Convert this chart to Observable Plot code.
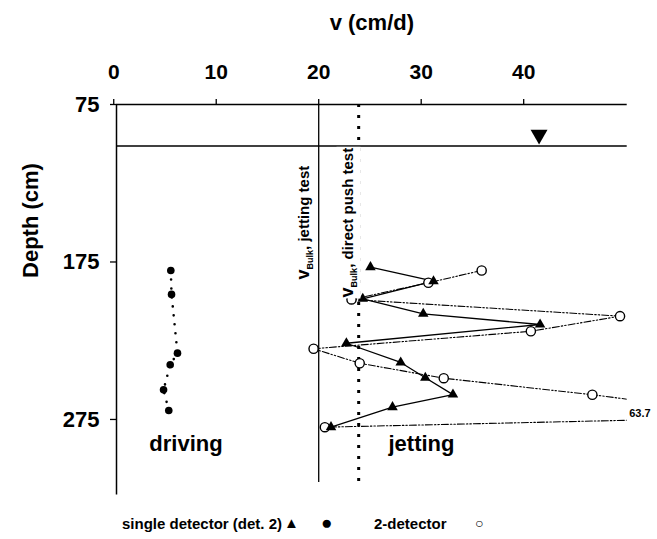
<!DOCTYPE html>
<html>
<head>
<meta charset="utf-8">
<script src="https://cdn.jsdelivr.net/npm/d3@7"></script>
<script src="https://cdn.jsdelivr.net/npm/@observablehq/plot@0.6"></script>
<style>
  body { margin: 0; background: white; }
  #wrap { position: relative; width: 657px; height: 539px; font-family: "Liberation Sans", Arial, sans-serif; }
  .leg { position: absolute; font-weight: bold; font-size: 15px; line-height: 1; white-space: nowrap; color: black; }
</style>
</head>
<body>
<div id="wrap"></div>
<script>
// ---- data ----
const xTicks = [0, 10, 20, 30, 40];
const yTicks = [75, 175, 275];

// single detector (det. 2), jetting  (triangles)
const jetV     = [25.05, 31.2, 24.3, 30.2, 41.6, 22.7, 28.0, 30.4, 33.1, 27.2, 21.2];
const jetDepth = [178.3, 187.2, 198.4, 207.9, 214.7, 226.6, 238.8, 248.5, 259.2, 267.2, 279.9];

// 2-detector (open circles)
const twoV     = [35.9, 30.7, 23.2, 49.4, 40.7, 19.5, 24.0, 32.2, 46.7, 63.7, 20.6];
const twoDepth = [180.4, 188.2, 198.8, 209.4, 219.0, 230.1, 239.3, 248.8, 259.3, 273.5, 279.9];

// single detector, driving (filled circles)
const driveV     = [5.57, 5.64, 6.22, 5.51, 4.86, 5.37];
const driveDepth = [180.4, 195.6, 232.9, 240.3, 256.2, 269.3];

// bulk velocities
const bulkLabels = ["v_Bulk, jetting test", "v_Bulk, direct push test"];
const bulkValues = [20, 23.9];

// water table
const waterTableDepth = [101.4];
const waterMarkerV = [41.5];
const waterMarkerDepth = [94.2];

const xDomain = [0.27, 50.1];
const yDomain = [75, 325];

const jet = jetV.map((v, i) => ({v, d: jetDepth[i]}));
const two = twoV.map((v, i) => ({v, d: twoDepth[i]}));
const drive = driveV.map((v, i) => ({v, d: driveDepth[i]}));
const bulk = bulkLabels.map((label, i) => ({label, v: bulkValues[i]}));
const offScale = two.filter(p => p.v > xDomain[1]);
const font = "'Liberation Sans', Arial, Helvetica, sans-serif";

const svg = Plot.plot({
  width: 657,
  height: 505,
  marginLeft: 116,
  marginRight: 30.3,
  marginTop: 104,
  marginBottom: 7.3,
  x: {domain: xDomain, axis: null},
  y: {domain: yDomain, reverse: true, axis: null},
  style: {fontFamily: font, background: "white", overflow: "visible", color: "black"},
  marks: [
    Plot.axisX({anchor: "top", ticks: xTicks, tickSize: 6, tickPadding: 20, fontSize: 21, fontWeight: "bold", label: null, strokeWidth: 1.3}),
    Plot.axisY({anchor: "left", ticks: yTicks, tickSize: 6, tickPadding: 11, fontSize: 22, fontWeight: "bold", label: null, strokeWidth: 1.3}),
    Plot.ruleY([yDomain[0]], {stroke: "black", strokeWidth: 1.5}),
    Plot.ruleX([xDomain[0]], {y1: 75, y2: 323, stroke: "black", strokeWidth: 1.5}),
    Plot.ruleY(waterTableDepth, {stroke: "black", strokeWidth: 1.5}),
    Plot.ruleX([bulkValues[0]], {y1: 75, y2: 315, stroke: "black", strokeWidth: 1.3}),
    Plot.ruleX([bulkValues[1]], {y1: 75, y2: 318, stroke: "black", strokeWidth: 3, strokeDasharray: "3,8"}),
    Plot.dot(waterMarkerV.map((v, i) => ({v, d: waterMarkerDepth[i]})), {x: "v", y: "d", symbol: "triangle", r: 6.3, rotate: 180, fill: "black", stroke: "none"}),
    // lines
    Plot.line(drive, {x: "v", y: "d", stroke: "black", strokeWidth: 2.6, strokeDasharray: "0,9", strokeLinecap: "round"}),
    Plot.line(two, {x: "v", y: "d", stroke: "black", strokeWidth: 1.1, strokeDasharray: "7,2,1.5,2,1.5,2", clip: true}),
    Plot.line(jet, {x: "v", y: "d", stroke: "black", strokeWidth: 1.3}),
    // points
    Plot.dot(two.filter(p => p.v <= xDomain[1]), {x: "v", y: "d", r: 4.6, fill: "white", stroke: "black", strokeWidth: 1.4}),
    Plot.dot(jet, {x: "v", y: "d", symbol: "triangle", r: 3.9, fill: "black", stroke: "none"}),
    Plot.dot(drive, {x: "v", y: "d", r: 3.8, fill: "black", stroke: "none"}),
    // off-scale annotation
    Plot.text(offScale, {x: () => xDomain[1], y: "d", text: p => String(p.v), textAnchor: "start", dx: 2, dy: -4, fontSize: 11, fontWeight: "bold"}),
    // bulk labels
    Plot.text(bulk, {x: "v", y: () => 150, text: "label", rotate: -90, fontSize: 15, fontWeight: "bold"}),
    // annotations
    Plot.text(["driving"], {frameAnchor: "bottom-left", textAnchor: "middle", lineAnchor: "middle", dx: 69.5, dy: -54, fontSize: 22, fontWeight: "bold"}),
    Plot.text(["jetting"], {frameAnchor: "bottom-left", textAnchor: "middle", lineAnchor: "middle", dx: 305, dy: -54, fontSize: 22, fontWeight: "bold"}),
    // axis titles
    Plot.text(["v (cm/d)"], {frameAnchor: "top", lineAnchor: "middle", dy: -82, fontSize: 22, fontWeight: "bold"}),
    Plot.text(["Depth (cm)"], {frameAnchor: "top-left", textAnchor: "middle", lineAnchor: "middle", rotate: -90, dx: -86, dy: 116, fontSize: 22, fontWeight: "bold"})
  ]
});

const wrap = document.getElementById("wrap");
wrap.appendChild(svg);

// subscripted v_Bulk labels, shifted left of their lines, direct push label on white box
const shifts = {"v_Bulk, jetting test": -15, "v_Bulk, direct push test": -10};
d3.select(svg).selectAll("text").each(function() {
  const t = this.textContent;
  const m = t.match(/^v_Bulk(, .*)$/);
  if (!m) return;
  const el = d3.select(this);
  const tr = el.attr("transform") || "";
  el.attr("transform", `translate(${shifts[t]},0) ` + tr);
  el.text(null);
  el.append("tspan").attr("font-size", 18).text("v");
  el.append("tspan").attr("font-size", 9).attr("dy", 4).text("Bulk");
  el.append("tspan").attr("dy", -4).text(m[1]);
  if (t.includes("direct")) {
    const b = this.getBBox();
    d3.select(this.parentNode).insert("rect", () => this)
      .attr("transform", el.attr("transform"))
      .attr("x", b.x - 1).attr("y", b.y - 1).attr("width", b.width + 2).attr("height", b.height + 2)
      .attr("fill", "white");
  }
});

// legend below the chart
const legend = [
  {t: "single detector (det. 2)", left: 122, top: 516, size: 15},
  {t: "\u25B2", left: 284, top: 515, size: 15},
  {t: "\u25CF", left: 321, top: 513, size: 19},
  {t: "2-detector", left: 374, top: 516, size: 15},
  {t: "\u25CB", left: 475, top: 516, size: 14}
];
for (const l of legend) {
  const s = document.createElement("span");
  s.className = "leg";
  s.textContent = l.t;
  s.style.left = l.left + "px";
  s.style.top = l.top + "px";
  s.style.fontSize = l.size + "px";
  wrap.appendChild(s);
}
</script>
</body>
</html>
